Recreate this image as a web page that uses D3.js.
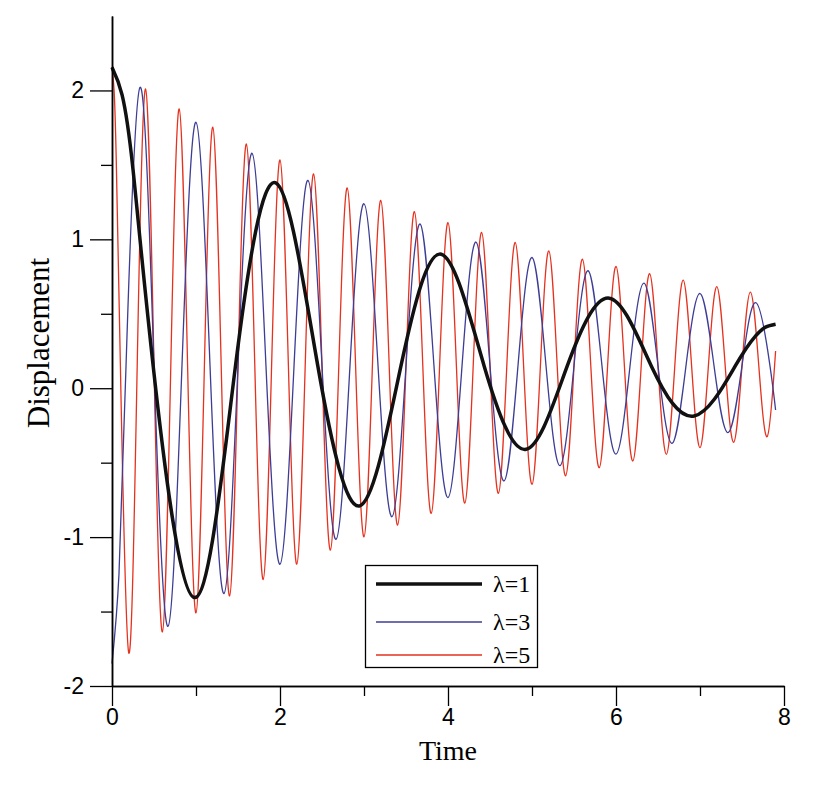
<!DOCTYPE html>
<html>
<head>
<meta charset="utf-8">
<script src="https://cdn.jsdelivr.net/npm/d3@7"></script>
<style>
  body { margin: 0; background: #fff; }
  .tick text { font-family: "Liberation Sans", Arial, sans-serif; }
</style>
</head>
<body>
<div id="chart"></div>
<script>
// values: [time, displacement] at extrema and crossings
const lambda1 = [
    [0, 2.156], [0.12, 1.97], [0.25, 1.47], [0.49, 0.15], [0.98, -1.406], [1.47, 0.15], [1.95, 1.379],
    [2.45, 0.15], [2.95, -0.79], [3.44, 0.15], [3.92, 0.9], [4.43, 0.15], [4.93, -0.41],
    [5.42, 0.15], [5.92, 0.605], [6.42, 0.15], [6.93, -0.186], [7.42, 0.15], [7.66, 0.35],
    [7.78, 0.41], [7.9, 0.43]
];
const lambda3 = [
    [0, -1.85], [0.083, -1.25], [0.167, 0.15], [0.333, 2.02], [0.5, 0.15], [0.667, -1.599], [0.833, 0.15],
    [1.0, 1.786], [1.167, 0.15], [1.333, -1.379], [1.5, 0.15], [1.667, 1.578], [1.833, 0.15],
    [2.0, -1.182], [2.167, 0.15], [2.333, 1.396], [2.5, 0.15], [2.667, -1.015], [2.833, 0.15],
    [3.0, 1.239], [3.167, 0.15], [3.333, -0.863], [3.5, 0.15], [3.667, 1.103], [3.833, 0.15],
    [4.0, -0.735], [4.167, 0.15], [4.333, 0.982], [4.5, 0.15], [4.667, -0.623], [4.833, 0.15],
    [5.0, 0.878], [5.167, 0.15], [5.333, -0.52], [5.5, 0.15], [5.667, 0.789], [5.833, 0.15],
    [6.0, -0.442], [6.167, 0.15], [6.333, 0.706], [6.5, 0.15], [6.667, -0.37], [6.833, 0.15],
    [7.0, 0.636], [7.167, 0.15], [7.333, -0.298], [7.5, 0.15], [7.667, 0.574], [7.833, 0.15],
    [7.9, -0.146]
];
const lambda5 = [
    [0, 2.156], [0.025, 2.0], [0.05, 1.55], [0.1, 0.15], [0.2, -1.778], [0.3, 0.15], [0.4, 2.01], [0.5, 0.15],
    [0.6, -1.637], [0.7, 0.15], [0.8, 1.876], [0.9, 0.15], [1.0, -1.509], [1.1, 0.15],
    [1.2, 1.753], [1.3, 0.15], [1.4, -1.395], [1.5, 0.15], [1.6, 1.64], [1.7, 0.15],
    [1.8, -1.285], [1.9, 0.15], [2.0, 1.533], [2.1, 0.15], [2.2, -1.182], [2.3, 0.15],
    [2.4, 1.439], [2.5, 0.15], [2.6, -1.087], [2.7, 0.15], [2.8, 1.345], [2.9, 0.15],
    [3.0, -0.998], [3.1, 0.15], [3.2, 1.262], [3.3, 0.15], [3.4, -0.919], [3.5, 0.15],
    [3.6, 1.186], [3.7, 0.15], [3.8, -0.841], [3.9, 0.15], [4.0, 1.112], [4.1, 0.15],
    [4.2, -0.772], [4.3, 0.15], [4.4, 1.046], [4.5, 0.15], [4.6, -0.706], [4.7, 0.15],
    [4.8, 0.979], [4.9, 0.15], [5.0, -0.646], [5.1, 0.15], [5.2, 0.923], [5.3, 0.15],
    [5.4, -0.588], [5.5, 0.15], [5.6, 0.867], [5.7, 0.15], [5.8, -0.534], [5.9, 0.15],
    [6.0, 0.818], [6.1, 0.15], [6.2, -0.489], [6.3, 0.15], [6.4, 0.769], [6.5, 0.15],
    [6.6, -0.444], [6.7, 0.15], [6.8, 0.726], [6.9, 0.15], [7.0, -0.399], [7.1, 0.15],
    [7.2, 0.683], [7.3, 0.15], [7.4, -0.363], [7.5, 0.15], [7.6, 0.646], [7.7, 0.15],
    [7.8, -0.325], [7.9, 0.25]
];
const legendLabels = ['\u03bb=1', '\u03bb=3', '\u03bb=5'];
const xMajor = [0, 2, 4, 6, 8];
const xMinor = [1, 3, 5, 7];
const yMajor = [-2, -1, 0, 1, 2];
const yMinor = [-1.5, -0.5, 0.5, 1.5];

const width = 836;
const height = 787;

const x = d3.scaleLinear().domain([0, 8]).range([112, 784]);
const y = d3.scaleLinear().domain([-2, 2.5]).range([686, 16]);

const svg = d3
    .select('#chart')
    .append('svg')
    .attr('width', width)
    .attr('height', height);

svg.append('rect').attr('width', width).attr('height', height).attr('fill', '#fff');

const line = d3
    .line()
    .x(d => x(d[0]))
    .y(d => y(d[1]))
    .curve(d3.curveNatural);

const series = [
    { data: lambda5, color: '#e5321f', width: 1.3 },
    { data: lambda3, color: '#3d3d96', width: 1.3 },
    { data: lambda1, color: '#111', width: 3.5 }
];

svg.selectAll('path.curve')
    .data(series)
    .enter()
    .append('path')
    .attr('class', 'curve')
    .attr('fill', 'none')
    .attr('stroke', d => d.color)
    .attr('stroke-width', d => d.width)
    .attr('d', d => line(d.data));

// axes
const plain = d => String(d);

function styleAxis(g) {
    g.selectAll('.domain').attr('stroke', '#000').attr('stroke-width', 1.5);
    g.selectAll('.tick line').attr('stroke', '#000').attr('stroke-width', 1.3);
    g.selectAll('.tick text').attr('font-size', 23).attr('fill', '#000');
}

svg.append('g')
    .attr('transform', 'translate(0,' + y(-2) + ')')
    .call(d3.axisBottom(x).tickValues(xMinor).tickSize(10).tickSizeOuter(0).tickFormat(''))
    .call(styleAxis);
svg.append('g')
    .attr('transform', 'translate(0,' + y(-2) + ')')
    .call(d3.axisBottom(x).tickValues(xMajor).tickSize(20).tickSizeOuter(0).tickPadding(3).tickFormat(plain))
    .call(styleAxis);

svg.append('g')
    .attr('transform', 'translate(' + x(0) + ',0)')
    .call(d3.axisLeft(y).tickValues(yMinor).tickSize(11).tickSizeOuter(0).tickFormat(''))
    .call(styleAxis);
svg.append('g')
    .attr('transform', 'translate(' + x(0) + ',0)')
    .call(d3.axisLeft(y).tickValues(yMajor).tickSize(22).tickSizeOuter(0).tickPadding(6).tickFormat(plain))
    .call(styleAxis);

svg.append('text')
    .attr('x', 448)
    .attr('y', 760)
    .attr('text-anchor', 'middle')
    .attr('font-family', '"Liberation Serif", "Times New Roman", serif')
    .attr('font-size', 28)
    .text('Time');

svg.append('text')
    .attr('transform', 'translate(49,343) rotate(-90)')
    .attr('text-anchor', 'middle')
    .attr('font-family', '"Liberation Serif", "Times New Roman", serif')
    .attr('font-size', 31)
    .text('Displacement');

// legend
const legend = svg.append('g');
legend.append('rect')
    .attr('x', 365.5)
    .attr('y', 565.5)
    .attr('width', 172)
    .attr('height', 102)
    .attr('fill', '#fff')
    .attr('stroke', '#000')
    .attr('stroke-width', 1.3);

const legendRows = [584, 622, 655];
const legendSeries = [series[2], series[1], series[0]];
legendLabels.forEach(function (label, i) {
    legend.append('line')
        .attr('x1', 376)
        .attr('x2', 482)
        .attr('y1', legendRows[i])
        .attr('y2', legendRows[i])
        .attr('stroke', legendSeries[i].color)
        .attr('stroke-width', legendSeries[i].width);
    legend.append('text')
        .attr('x', 493)
        .attr('y', legendRows[i] + 8)
        .attr('font-family', '"Liberation Serif", "Times New Roman", serif')
        .attr('font-size', 24)
        .text(label);
});
</script>
</body>
</html>
